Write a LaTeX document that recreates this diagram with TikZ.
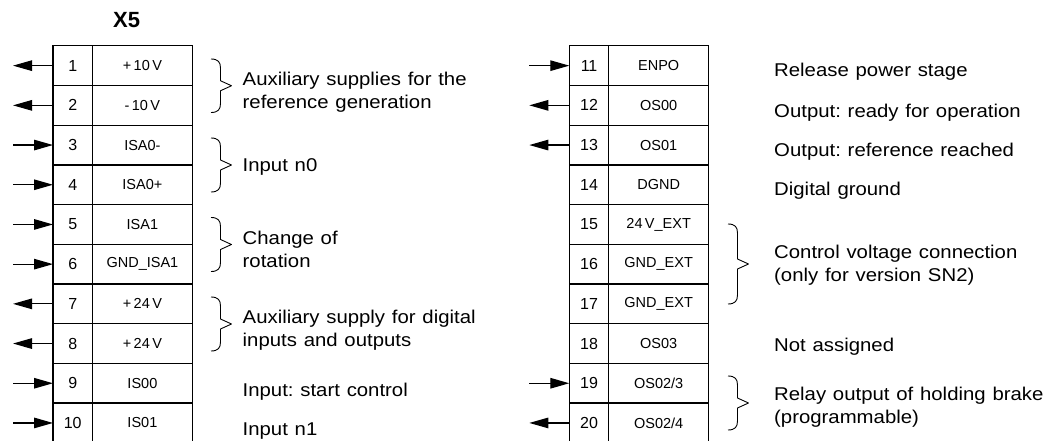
\documentclass[tikz,border=0pt]{standalone}
\usepackage{fontspec}
\setmainfont{Liberation Sans}
\newfontfamily\descfont[FakeStretch=1.1,WordSpace=1.2]{Liberation Sans}
\usetikzlibrary{positioning,arrows.meta}

\begin{document}
\begin{tikzpicture}[x=1pt,y=-1pt,
  pinnum/.style={draw, line width=1.3pt, outer sep=0pt, inner sep=0pt,
    minimum width=39.5pt, minimum height=39.7pt, font=\fontsize{16}{18}\selectfont},
  pinsig/.style={pinnum, minimum width=99.8pt, font=\fontsize{14.5}{16}\selectfont},
  desc/.style={anchor=base west, align=left, inner sep=0pt,
    font=\descfont\fontsize{18.5}{22.6}\selectfont\frenchspacing},
  pinin/.style={line width=1.2pt, -{Triangle[length=19pt,width=10.5pt]}},
  pinout/.style={line width=1.2pt, {Triangle[length=19pt,width=10.5pt]}-},
  curly/.style={line width=0.9pt, line join=round}]

\useasboundingbox (0,0) rectangle (1061,441);

\node [anchor=base, font=\fontsize{22}{24}\selectfont\bfseries] (title) at (126.7,27.7) {X5};

% pins 1..10
\foreach \n/\lab in {1/{+\,10\,V}, 2/{-\,10\,V}, 3/ISA0-, 4/ISA0+, 5/ISA1,
    6/GND\_ISA1, 7/{+\,24\,V}, 8/{+\,24\,V}, 9/IS00, 10/IS01} {
  \node [pinnum, anchor=north west] (num\n) at (53, {45.8+(\n-1)*39.7}) {\n};
  \node [pinsig, right=0pt of num\n] (sig\n) {\lab};
}

% pins 11..20
\foreach \n/\lab in {11/ENPO, 12/OS00, 13/OS01, 14/DGND, 15/{24\,V\_EXT},
    16/GND\_EXT, 17/GND\_EXT, 18/OS03, 19/{OS02/3}, 20/{OS02/4}} {
  \node [pinnum, anchor=north west] (num\n) at (569.3, {45.8+(\n-11)*39.7}) {\n};
  \node [pinsig, right=0pt of num\n] (sig\n) {\lab};
}

% inputs and outputs
\foreach \n in {3,4,5,6,9,10,11,19} {
  \coordinate [left=40pt of num\n] (e\n);
  \draw [pinin] (e\n) -- (num\n);
}
\foreach \n in {1,2,7,8,12,13,20} {
  \coordinate [left=40pt of num\n] (e\n);
  \draw [pinout] (e\n) -- (num\n);
}

% braces
\foreach \xb/\yt/\yb in {211/59/112.5, 211/138/192, 211/217.5/271.5, 211/297/351,
    728/224/304, 728/376/430}
  \draw [curly] (\xb,\yt) .. controls ({\xb+7},\yt) and ({\xb+9.5},{\yt+3}) .. ({\xb+9.5},{\yt+9})
    -- ({\xb+9.5},{(\yt+\yb)/2-5}) -- ({\xb+20.5},{(\yt+\yb)/2}) -- ({\xb+9.5},{(\yt+\yb)/2+5})
    -- ({\xb+9.5},{\yb-9}) .. controls ({\xb+9.5},{\yb-3}) and ({\xb+7},\yb) .. (\xb,\yb);

% base of a two-line text is its last line
\node [desc] (d1) at (242.5,108.3) {Auxiliary supplies for the\\reference generation};
\node [desc] (d3) at (242.5,171.7) {Input n0};
\node [desc] (d5) at (242.5,267.4) {Change of\\rotation};
\node [desc] (d7) at (242.5,346.4) {Auxiliary supply for digital\\inputs and outputs};
\node [desc] (d9) at (242.5,396.7) {Input: start control};
\node [desc] (d10) at (242.5,435) {Input n1};

\node [desc] (d11) at (774,76.7) {Release power stage};
\node [desc] (d12) at (774,117.3) {Output: ready for operation};
\node [desc] (d13) at (774,156.7) {Output: reference reached};
\node [desc] (d14) at (774,196) {Digital ground};
\node [desc] (d15) at (774,281.2) {Control voltage connection\\(only for version SN2)};
\node [desc] (d18) at (774,351.7) {Not assigned};
\node [desc] (d19) at (774,423.2) {Relay output of holding brake\\(programmable)};

\end{tikzpicture}
\end{document}
